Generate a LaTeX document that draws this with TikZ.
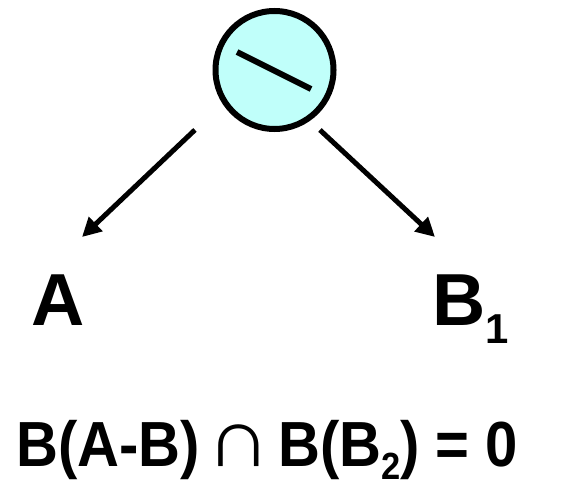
\documentclass[tikz,border=0pt]{standalone}
\usepackage{fontspec}
\setmainfont{Liberation Sans}
\newfontfamily\eqfont[FakeStretch=0.91]{Liberation Sans}
\usetikzlibrary{arrows.meta}
\definecolor{cOp}{HTML}{C0FFFA}
\definecolor{cInk}{HTML}{000000}
\newcommand{\lowsub}[3]{\raisebox{-#1bp}{\fontsize{#2}{#2}\selectfont #3}}
\tikzset{
  flow/.style={-{Triangle[length=19bp,width=19bp]},line width=5bp,draw=cInk},
  opnode/.style={circle,draw=cInk,fill=cOp,line width=6bp,minimum size=118bp,inner sep=0pt},
  bigtxt/.style={font=\fontsize{74}{74}\selectfont\bfseries,inner sep=0pt,anchor=base west},
  eqtxt/.style={font=\eqfont\fontsize{64}{64}\selectfont\bfseries,inner sep=0pt,anchor=base west}
}

\begin{document}
\begin{tikzpicture}[x=1bp,y=-1bp]
  \useasboundingbox (0,0) rectangle (573,484);

  % difference operator
  \node[opnode] (op) at (274.5,70) {};
  \draw[line width=6bp,draw=cInk] (237,52) -- (311,89);

  % operands
  \node[bigtxt] (nA) at (31,325) {A};
  \node[bigtxt] (nB) at (432,325) {B\lowsub{18}{42}{1}};
  \coordinate (tipA) at (82,237);
  \coordinate (tipB) at (435,237);
  \draw[flow,shorten <=38bp] (op.213) -- (tipA);
  \draw[flow,shorten <=13.5bp] (op.305) -- (tipB);

  % condition
  \node[eqtxt] (cond) at (16,466)
    {B(A-B) \makebox[46bp]{\mdseries\scalebox{1.55}[1.3]{∩}} B(B\lowsub{13}{38}{2}) = 0};
\end{tikzpicture}
\end{document}
